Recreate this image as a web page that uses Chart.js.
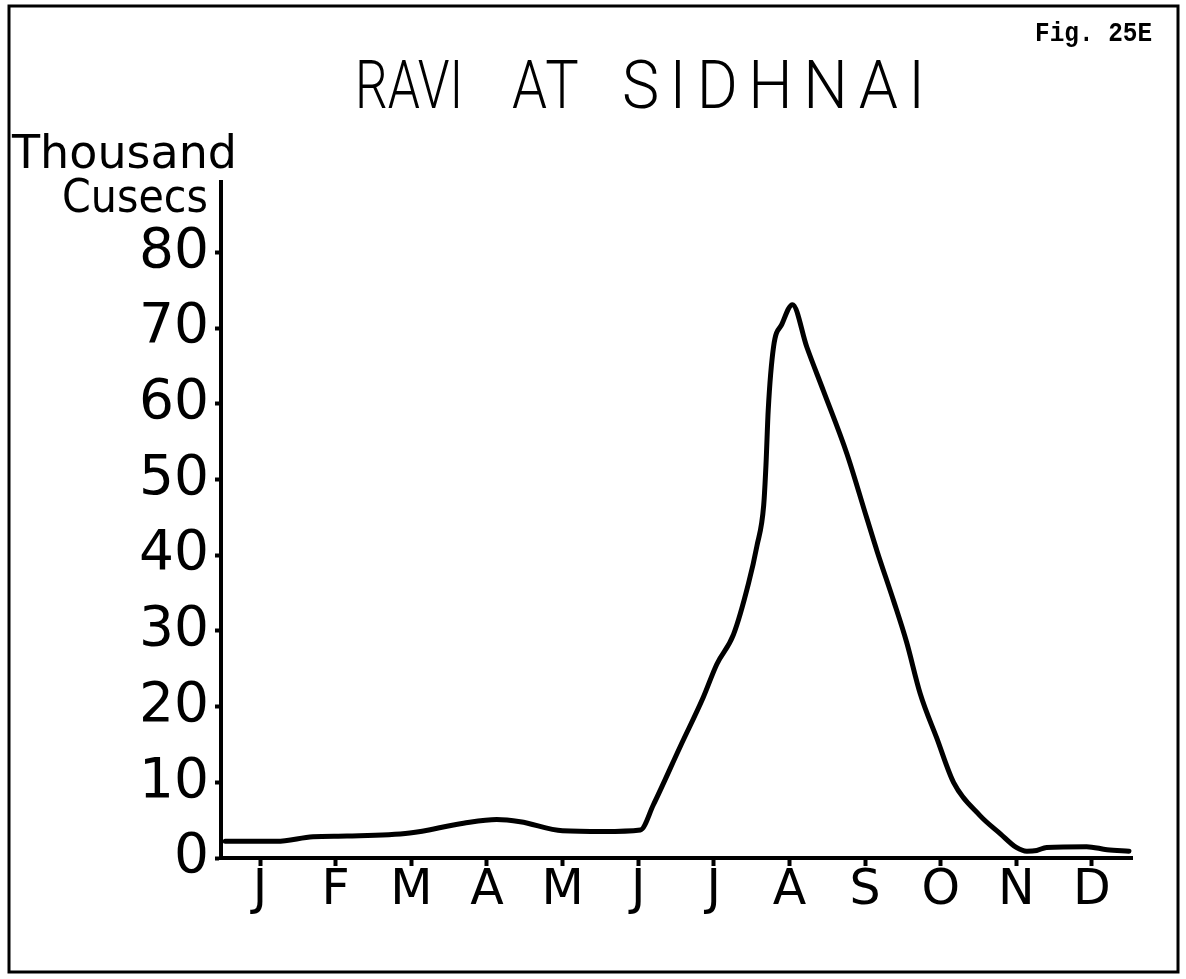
<!DOCTYPE html>
<html>
<head>
<meta charset="utf-8">
<title>Ravi at Sidhnai</title>
<script src="https://cdn.jsdelivr.net/npm/chart.js@4.4.1/dist/chart.umd.min.js"></script>
<style>
  html, body { margin: 0; padding: 0; background: #fff; }
  #wrap { width: 1186px; height: 979px; }
</style>
</head>
<body>
<div id="wrap"><canvas id="flow" width="1186" height="979"></canvas></div>
<script>
// month initials along the x axis, one tick per mid-month
const months = ['J', 'F', 'M', 'A', 'M', 'J', 'J', 'A', 'S', 'O', 'N', 'D'];
// position in months (0 = mid January) and discharge in thousand cusecs
const flowMonth = [-0.46, 0.22, 0.70, 1.15, 1.98, 2.69, 3.13, 3.44, 4.00, 4.54, 5.03,
  5.20, 5.56, 5.86, 6.04, 6.26, 6.46, 6.57, 6.66, 6.69, 6.72, 6.79, 6.90, 7.04,
  7.23, 7.45, 7.76, 8.02, 8.16, 8.38, 8.55, 8.73, 8.95, 9.17, 9.52, 9.79,
  10.00, 10.14, 10.27, 10.40, 10.93, 11.20, 11.49];
const flowValue = [2.2, 2.2, 2.8, 2.9, 3.3, 4.6, 5.1, 4.8, 3.6, 3.5, 3.7,
  7.0, 14.8, 21.2, 25.6, 29.5, 36.3, 41.2, 46.6, 51.9, 59.2, 67.5, 70.5, 73.1,
  67.5, 61.7, 53.4, 45.0, 40.5, 33.9, 28.5, 21.7, 15.8, 10.0, 5.6, 3.2,
  1.4, 0.9, 1.0, 1.4, 1.5, 1.1, 0.9];
const yTicks = [0, 10, 20, 30, 40, 50, 60, 70, 80];

const points = flowMonth.map((m, i) => ({ x: m, y: flowValue[i] }));

const ink = '#000';
const letterFont = '"DejaVu Sans", sans-serif';

// draw a word squeezed (or not) horizontally, starting at x
function headingWord(ctx, text, x, y, squeeze, spacing) {
  ctx.save();
  ctx.scale(squeeze, 1);
  ctx.letterSpacing = spacing + 'px';
  ctx.fillText(text, x / squeeze, y);
  ctx.restore();
}

// frame, heading, figure number and the unit label
const decorations = {
  id: 'decorations',
  afterDraw(chart) {
    const ctx = chart.ctx;
    ctx.save();
    ctx.strokeStyle = ink;
    ctx.lineWidth = 3;
    ctx.strokeRect(9, 6, 1169, 966);

    ctx.fillStyle = ink;
    ctx.textBaseline = 'alphabetic';
    ctx.textAlign = 'left';
    ctx.font = '300 66px Roboto, sans-serif';
    headingWord(ctx, 'RAVI', 355, 108, 0.78, 0);
    headingWord(ctx, 'AT', 512, 108, 0.85, 2);
    headingWord(ctx, 'SIDHNAI', 622, 108, 0.95, 11);

    ctx.font = 'bold 27px "Liberation Mono", monospace';
    ctx.fillText('Fig. 25E', 1035, 41, 117);

    ctx.font = '46px ' + letterFont;
    ctx.fillText('Thousand', 12, 168, 236);
    ctx.textAlign = 'right';
    ctx.fillText('Cusecs', 208, 212, 146);
    ctx.restore();
  }
};

new Chart(document.getElementById('flow'), {
  type: 'line',
  data: {
    datasets: [{
      data: points,
      borderColor: ink,
      borderWidth: 5,
      pointRadius: 0,
      fill: false,
      cubicInterpolationMode: 'monotone',
      borderCapStyle: 'round',
      borderJoinStyle: 'round'
    }]
  },
  options: {
    responsive: false,
    animation: false,
    layout: { padding: { top: 182, right: 54, left: 0, bottom: 0 } },
    plugins: { legend: { display: false }, tooltip: { enabled: false } },
    scales: {
      x: {
        type: 'linear',
        min: -0.516,
        max: 11.53,
        afterFit: (scale) => { scale.height = 121; },
        afterBuildTicks: (scale) => {
          scale.ticks = months.map((_, i) => ({ value: i }));
        },
        border: { display: true, color: ink, width: 4 },
        grid: { drawOnChartArea: false, drawTicks: true, tickLength: 8, tickWidth: 4, tickColor: ink },
        ticks: {
          autoSkip: false,
          maxRotation: 0,
          padding: 1,
          color: ink,
          font: { family: letterFont, size: 49, lineHeight: 1.0 },
          callback: (v) => months[v]
        }
      },
      y: {
        min: 0,
        max: 89.3,
        afterFit: (scale) => { scale.width = 221; },
        afterBuildTicks: (scale) => {
          scale.ticks = yTicks.map((v) => ({ value: v }));
        },
        border: { display: true, color: ink, width: 4 },
        grid: { drawOnChartArea: false, drawTicks: true, tickLength: 6, tickWidth: 4, tickColor: ink },
        ticks: {
          padding: 6,
          color: ink,
          font: { family: letterFont, size: 55, lineHeight: 1.0 }
        }
      }
    }
  },
  plugins: [decorations]
});
</script>
</body>
</html>
